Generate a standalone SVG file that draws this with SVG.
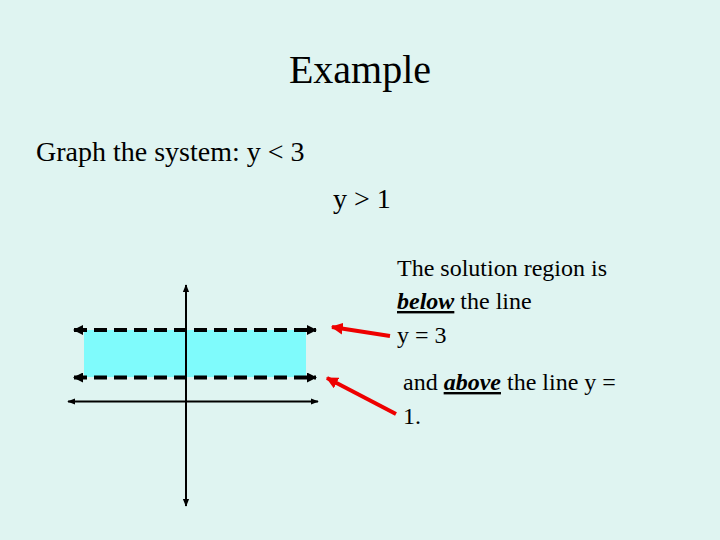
<svg xmlns="http://www.w3.org/2000/svg" width="720" height="540" viewBox="0 0 720 540">
<style>
text{font-family:"Liberation Serif",serif;fill:#000}
.ax{stroke:#000;stroke-width:2;fill:none}
.dash{stroke:#000;stroke-width:4;stroke-dasharray:13 7;fill:none}
.red{stroke:#e00;stroke-width:4;fill:none}
</style>
<defs>
<marker id="ah" viewBox="0 0 10 10" refX="9" refY="5" markerWidth="4" markerHeight="4" orient="auto-start-reverse"><path d="M0,1 L10,5 L0,9 Z" fill="#000"/></marker>
<marker id="ahd" viewBox="0 0 10 10" refX="9" refY="5" markerWidth="2.5" markerHeight="2.5" orient="auto-start-reverse"><path d="M0,0 L10,5 L0,10 Z" fill="#000"/></marker>
<marker id="rh" viewBox="0 0 10 10" refX="9" refY="5" markerWidth="3" markerHeight="3" orient="auto"><path d="M0,0 L10,5 L0,10 Z" fill="#e00"/></marker>
</defs>
<rect width="720" height="540" fill="#dff4f1"/>
<g id="title"><text x="360" y="83" font-size="40" text-anchor="middle">Example</text></g>
<g id="system">
<text x="36" y="161" font-size="28">Graph the system:   y &lt; 3</text>
<text x="333" y="208" font-size="28">y &gt; 1</text>
</g>
<g id="region"><rect x="84" y="330" width="222" height="47" fill="#7ffbfc"/></g>
<g id="connectors">
<line class="ax" x1="186" y1="285" x2="186" y2="506" marker-start="url(#ah)" marker-end="url(#ah)"/>
<line class="ax" x1="68" y1="401.5" x2="318" y2="401.5" marker-start="url(#ah)" marker-end="url(#ah)"/>
<line class="dash" x1="74" y1="330" x2="316" y2="330" marker-start="url(#ahd)" marker-end="url(#ahd)"/>
<line class="dash" x1="74" y1="377.5" x2="316" y2="377.5" marker-start="url(#ahd)" marker-end="url(#ahd)"/>
<line class="red" x1="390" y1="336" x2="332" y2="327" marker-end="url(#rh)"/>
<line class="red" x1="396" y1="414" x2="327" y2="378" marker-end="url(#rh)"/>
</g>
<g id="note1" font-size="24">
<text x="397" y="276" font-size="24">The solution region is</text>
<text x="397" y="309" font-size="24"><tspan font-weight="bold" font-style="italic" text-decoration="underline">below</tspan>  the line</text>
<text x="397" y="343" font-size="24">y = 3</text>
</g>
<g id="note2">
<text x="403" y="390" font-size="24">and <tspan font-weight="bold" font-style="italic" text-decoration="underline">above</tspan> the line y =</text>
<text x="403" y="424" font-size="24">1.</text>
</g>
</svg>
